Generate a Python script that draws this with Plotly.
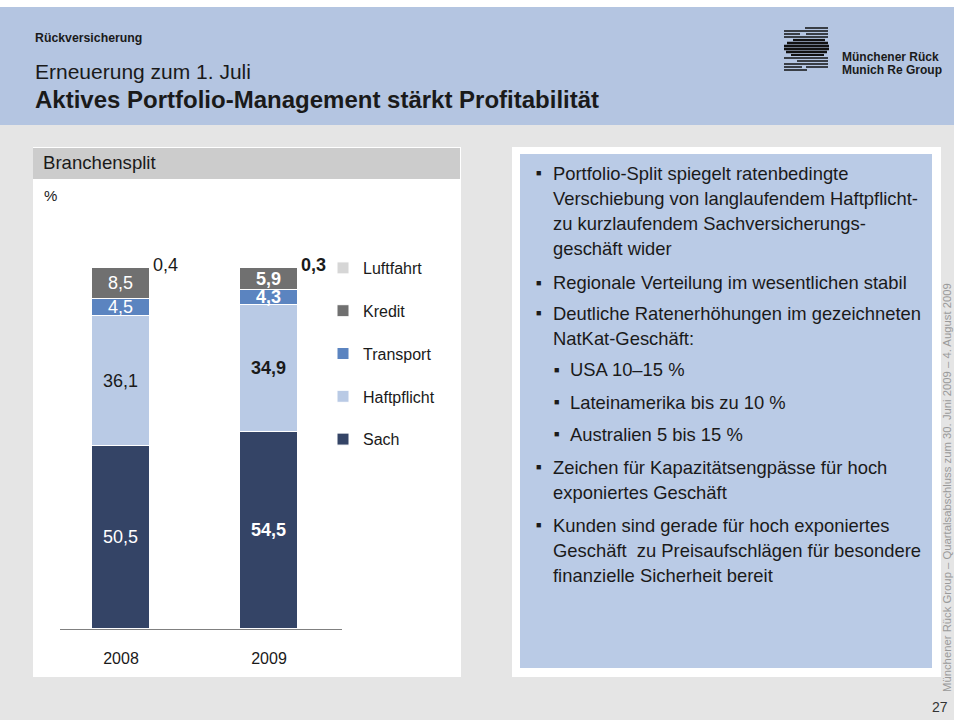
import plotly.graph_objects as go

# ---------------- data ----------------
years = ["2008", "2009"]
series_names = ["Sach", "Haftpflicht", "Transport", "Kredit", "Luftfahrt"]
sach = [50.5, 54.5]
haftpflicht = [36.1, 34.9]
transport = [4.5, 4.3]
kredit = [8.5, 5.9]
luftfahrt = [0.4, 0.3]
series_values = [sach, haftpflicht, transport, kredit, luftfahrt]
series_colors = ["#344466", "#B9CAE5", "#5B84C0", "#707070", "#D6D6D6"]
label_colors = ["white", "#1a1a1a", "white", "white", None]

bullets = [
    (0, ["Portfolio-Split spiegelt ratenbedingte",
         "Verschiebung von langlaufendem Haftpflicht-",
         "zu kurzlaufendem Sachversicherungs-",
         "geschäft wider"]),
    (0, ["Regionale Verteilung im wesentlichen stabil"]),
    (0, ["Deutliche Ratenerhöhungen im gezeichneten",
         "NatKat-Geschäft:"]),
    (1, ["USA 10–15 %"]),
    (1, ["Lateinamerika bis zu 10 %"]),
    (1, ["Australien 5 bis 15 %"]),
    (0, ["Zeichen für Kapazitätsengpässe für hoch",
         "exponiertes Geschäft"]),
    (0, ["Kunden sind gerade für hoch exponiertes",
         "Geschäft  zu Preisaufschlägen für besondere",
         "finanzielle Sicherheit bereit"]),
]
bullet_y = [173, 283, 313, 370, 402, 434, 467, 525]

W, H = 954, 720
FONT = "Liberation Sans, Arial, sans-serif"


def px(x):
    return x / W


def py(y):
    return 1 - y / H


def fmt(v):
    return f"{v:.1f}".replace(".", ",")


fig = go.Figure()

xpos = list(range(len(years)))
bar_w = 0.392
n = len(series_names)
for k, (name, vals, col, lcol) in enumerate(zip(series_names, series_values,
                                                 series_colors, label_colors)):
    if lcol is not None:
        txt_vals = [fmt(v) if i == 0 else f"<b>{fmt(v)}</b>" for i, v in enumerate(vals)]
    else:
        txt_vals = None
    fig.add_trace(go.Bar(
        x=xpos, y=vals, name=name, width=bar_w,
        marker=dict(color=col, line=dict(color="white", width=1)),
        text=txt_vals, textposition="inside" if txt_vals else "none",
        insidetextanchor="middle", textangle=0, constraintext="none",
        textfont=dict(family=FONT, size=18, color=lcol if lcol else "black"),
        legendgroup=name, legendrank=n - k, hoverinfo="skip",
    ))

annotations = []
# outside labels for the tiny Luftfahrt segment
for i, v in enumerate(luftfahrt):
    total = sum(s[i] for s in series_values)
    t = fmt(v) if i == 0 else f"<b>{fmt(v)}</b>"
    annotations.append(dict(
        x=xpos[i] + bar_w / 2, y=total + 0.6, xref="x", yref="y", text=t,
        showarrow=False, xanchor="left", yanchor="middle", xshift=1,
        font=dict(family=FONT, size=18, color="#1a1a1a"),
    ))


def txt(x, y, s, size, bold=False, color="#1a1a1a", xanchor="left", **kw):
    annotations.append(dict(
        x=px(x), y=py(y), xref="paper", yref="paper",
        text=f"<b>{s}</b>" if bold else s, showarrow=False,
        xanchor=xanchor, yanchor="middle",
        font=dict(family=FONT, size=size, color=color), **kw,
    ))


# header texts
txt(33, 38, "Rückversicherung", 12.3, bold=True)
txt(33, 72, "Erneuerung zum 1. Juli", 21)
txt(33, 100, "Aktives Portfolio-Management stärkt Profitabilität", 24, bold=True)
txt(840, 57, "Münchener Rück", 12, bold=True)
txt(840, 70, "Munich Re Group", 12, bold=True)

# left panel
txt(41, 163, "Branchensplit", 18.6)
txt(42, 196, "%", 15)

# right panel bullets
line_h = 25
for (level, lines), y in zip(bullets, bullet_y):
    bx = 538 if level == 0 else 556
    tx = 551 if level == 0 else 568
    txt(bx, y, "■", 9, xanchor="center")
    for j, line in enumerate(lines):
        txt(tx, y + j * line_h, line, 18.4)

# footer
txt(950, 707, "27", 14, color="#333333", xanchor="right")
txt(947, 488, "Münchener Rück Group – Quartalsabschluss zum 30. Juni 2009 – 4. August 2009",
    11.3, color="#9a9a9a", xanchor="center", textangle=-90)

shapes = []


def rect(x0, y0, x1, y1, color):
    shapes.append(dict(type="rect", xref="paper", yref="paper",
                       x0=px(x0), x1=px(x1), y0=py(y1), y1=py(y0),
                       fillcolor=color, line=dict(width=0), layer="below"))


rect(0, 0, 954, 7, "white")
rect(0, 7, 954, 125, "#B4C5E1")
rect(33, 147, 461, 677, "white")
rect(33, 148, 460, 179, "#CCCCCC")
rect(512, 147, 941, 677, "white")
rect(520, 154, 932, 668, "#BACBE6")

# logo stripes (y, x0, x1, width)
logo = [(28, 805, 828, 1.5), (31, 784, 828, 1.5), (34, 784, 800, 1.5), (34, 806, 828, 1.5),
        (37, 784, 828, 1.5), (40, 793, 825, 2.2), (43, 787, 828, 2.4), (46, 784, 829, 2.6),
        (49, 784, 829, 2.6), (52, 786, 827, 2.4), (55, 791, 824, 2.2), (58, 784, 828, 1.5),
        (61, 797, 828, 1.5), (64, 784, 828, 1.5), (67, 784, 802, 1.5), (67, 806, 828, 1.5),
        (70, 784, 807, 1.5)]
for yy, xa, xb, lw in logo:
    shapes.append(dict(type="line", xref="paper", yref="paper",
                       x0=px(xa), x1=px(xb), y0=py(yy), y1=py(yy),
                       line=dict(color="#111111", width=lw)))

# axes geometry: bar centres at 121px and 269px, baseline at 629px
scale = 148.0
x_left = (60 - 121) / scale
x_right = (342 - 121) / scale
y_top_px = 200
y_max = (629 - y_top_px) / 3.62

fig.update_layout(
    width=W, height=H, margin=dict(l=0, r=0, t=0, b=0),
    paper_bgcolor="#E5E5E5", plot_bgcolor="rgba(0,0,0,0)",
    barmode="stack", bargap=0,
    font=dict(family=FONT, color="#1a1a1a"),
    xaxis=dict(domain=[px(60), px(342)], range=[x_left, x_right],
               tickvals=xpos, ticktext=years, showline=True, linecolor="#808080",
               linewidth=1, showgrid=False, zeroline=False, ticks="",
               tickfont=dict(family=FONT, size=16, color="#1a1a1a"),
               ticklabelstandoff=15, fixedrange=True),
    yaxis=dict(domain=[py(629), py(y_top_px)], range=[0, y_max], visible=False,
               fixedrange=True),
    legend=dict(x=px(323), y=py(251), xanchor="left", yanchor="top",
                traceorder="grouped", tracegroupgap=19,
                font=dict(family=FONT, size=16, color="#1a1a1a"),
                bgcolor="rgba(0,0,0,0)", itemclick=False, itemdoubleclick=False),
    showlegend=True,
    annotations=annotations, shapes=shapes,
)

fig.write_html(
    "out.html",
    config={"displayModeBar": False},
    post_script="document.body.style.margin='0';document.body.style.overflow='hidden';",
)
